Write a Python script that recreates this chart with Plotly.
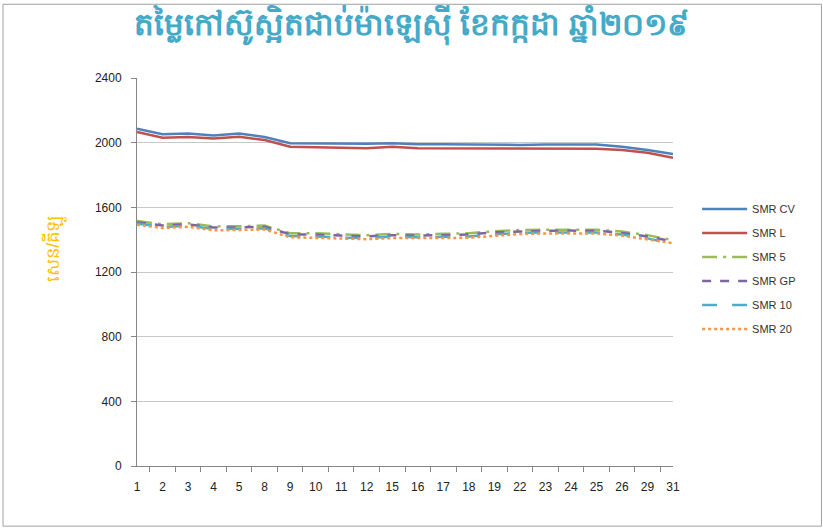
import plotly.graph_objects as go

days = ["1", "2", "3", "4", "5", "8", "9", "10", "11", "12", "15", "16", "17", "18", "19", "22", "23", "24", "25", "26", "29", "31"]

smr_cv = [2087, 2052, 2056, 2045, 2056, 2035, 1996, 1994, 1994, 1994, 1996, 1990, 1990, 1988, 1988, 1986, 1988, 1988, 1988, 1975, 1955, 1930]
smr_l = [2066, 2031, 2035, 2025, 2037, 2016, 1975, 1970, 1968, 1965, 1975, 1966, 1966, 1964, 1964, 1962, 1963, 1963, 1963, 1955, 1938, 1907]
smr_5 = [1515, 1495, 1502, 1482, 1483, 1487, 1440, 1440, 1433, 1428, 1436, 1432, 1436, 1440, 1452, 1460, 1462, 1464, 1462, 1450, 1428, 1396]
smr_gp = [1508, 1488, 1495, 1475, 1476, 1480, 1433, 1432, 1425, 1420, 1428, 1425, 1428, 1432, 1445, 1452, 1455, 1456, 1455, 1442, 1420, 1388]
smr_10 = [1500, 1478, 1487, 1465, 1467, 1470, 1422, 1420, 1413, 1410, 1418, 1415, 1418, 1420, 1433, 1442, 1445, 1447, 1445, 1432, 1408, 1372]
smr_20 = [1493, 1472, 1480, 1458, 1460, 1463, 1415, 1412, 1405, 1403, 1410, 1408, 1410, 1412, 1425, 1435, 1438, 1440, 1438, 1425, 1400, 1378]

series = [
    ("SMR CV", smr_cv, "#4F81BD", "solid"),
    ("SMR L", smr_l, "#C0504D", "solid"),
    ("SMR 5", smr_5, "#9BBB59", "longdashdot"),
    ("SMR GP", smr_gp, "#8064A2", "dash"),
    ("SMR 10", smr_10, "#4BACC6", "longdash"),
    ("SMR 20", smr_20, "#F79646", "dot"),
]

title_text = "តម្លៃកៅស៊ូស្អិតជាប់ម៉ាឡេស៊ី ខែកក្កដា ឆ្នាំ២០១៩"
ylabel_text = "សេន/គីឡូ"
yticks = [0, 400, 800, 1200, 1600, 2000, 2400]

fig = go.Figure()
for i, (name, vals, color, dash) in enumerate(series):
    fig.add_trace(go.Scatter(
        x=days, y=vals, name=name, mode="lines",
        line=dict(color=color, width=2.5, dash=dash),
        legendgroup=f"g{i}",
    ))

fig.update_layout(
    width=823, height=529,
    paper_bgcolor="white", plot_bgcolor="white",
    margin=dict(l=137, r=150, t=78, b=63, autoexpand=False),
    font=dict(family="Liberation Sans, Arial, sans-serif", size=12, color="#222222"),
    title=dict(text="<b>" + title_text + "</b>", x=0.5, xref="container", y=0.955, yref="container",
               xanchor="center", yanchor="middle",
               font=dict(size=31, color="#45A9C8", family="Noto Sans, sans-serif")),
    showlegend=True,
    legend=dict(x=1.045, y=0.7, xanchor="left", yanchor="top", itemwidth=45,
                font=dict(size=11, color="#333333"), tracegroupgap=5,
                bgcolor="rgba(0,0,0,0)"),
    xaxis=dict(type="category", showgrid=False, showline=True, linecolor="#868686",
               linewidth=1, ticks="outside", tickson="boundaries", ticklen=5,
               ticklabelstandoff=10,
               tickcolor="#868686", tickfont=dict(size=12, color="#222222")),
    yaxis=dict(range=[0, 2400], tickvals=yticks, showgrid=True, gridcolor="#C8C8C8",
               gridwidth=1, showline=True, linecolor="#868686", linewidth=1,
               ticks="outside", ticklen=5, tickcolor="#868686", zeroline=False,
               ticklabelstandoff=7,
               tickfont=dict(size=12, color="#222222")),
    annotations=[dict(text=ylabel_text, xref="paper", yref="paper",
                      x=-0.155, y=0.56, xanchor="center", yanchor="middle",
                      textangle=-90, showarrow=False,
                      font=dict(size=18, color="#FFC000"))],
    shapes=[dict(type="rect", xref="paper", yref="paper",
                 x0=-0.25, x1=1.277, y0=-0.155, y1=1.19,
                 line=dict(color="#A0A0A0", width=1))],
)

fig.write_html("out.html", config={"displayModeBar": False},
               post_script="document.body.style.margin='0';")
